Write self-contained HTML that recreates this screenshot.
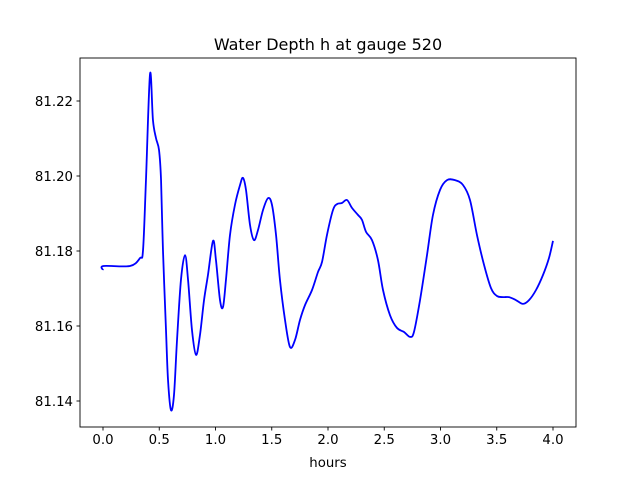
<!DOCTYPE html>
<html><head><meta charset="utf-8"><style>
body{margin:0;background:#fff}
svg{display:block;font-family:"DejaVu Sans","Liberation Sans",sans-serif}
</style></head><body>
<svg id="chart" width="640" height="480" viewBox="0 0 640 480"></svg>
<script>
const xTicks=[0,0.5,1,1.5,2,2.5,3,3.5,4];
const xTickLabels=["0.0","0.5","1.0","1.5","2.0","2.5","3.0","3.5","4.0"];
const yTicks=[81.14,81.16,81.18,81.20,81.22];
const yTickLabels=["81.14","81.16","81.18","81.20","81.22"];
const hours=[0,0.005,0.24,0.329,0.356,0.382,0.418,0.444,0.471,0.498,0.516,0.533,0.56,0.578,0.604,0.631,0.658,0.693,0.729,0.756,0.791,0.827,0.862,0.898,0.933,0.978,1.004,1.04,1.067,1.093,1.129,1.173,1.218,1.244,1.271,1.307,1.342,1.378,1.422,1.467,1.502,1.538,1.573,1.618,1.662,1.707,1.751,1.796,1.858,1.911,1.947,1.991,2.044,2.08,2.124,2.169,2.213,2.267,2.302,2.338,2.391,2.444,2.489,2.551,2.613,2.676,2.729,2.764,2.818,2.88,2.933,2.996,3.058,3.129,3.2,3.262,3.324,3.387,3.449,3.502,3.556,3.609,3.671,3.733,3.787,3.849,3.911,3.964,4.0];
const depth=[81.1749,81.176,81.176,81.1781,81.1803,81.1989,81.2272,81.2149,81.2101,81.2069,81.1989,81.1803,81.1589,81.1456,81.1376,81.1416,81.1563,81.1723,81.1789,81.1723,81.1589,81.1523,81.1576,81.1669,81.1736,81.1827,81.1776,81.1669,81.1651,81.1723,81.1843,81.1923,81.1976,81.1995,81.1963,81.1869,81.1829,81.1856,81.1909,81.1941,81.1923,81.1843,81.1723,81.1616,81.1544,81.1563,81.1616,81.1656,81.1696,81.1744,81.1771,81.1843,81.1909,81.1925,81.1928,81.1936,81.1915,81.1896,81.1883,81.1851,81.1829,81.1776,81.1696,81.1629,81.1595,81.1584,81.1571,81.1584,81.1669,81.1789,81.1896,81.1963,81.1989,81.1989,81.1976,81.1936,81.1843,81.1763,81.1701,81.168,81.1677,81.1677,81.1669,81.1659,81.1669,81.1696,81.1736,81.1781,81.1827];

const L=80,R=576,T=58,B=427;
const X=v=>103+(v-0)*112.5;
const Y=v=>101-(v-81.22)*3750;
const svg=document.getElementById('chart');
const NS='http://www.w3.org/2000/svg';
function mk(tag,attrs,parent){const e=document.createElementNS(NS,tag);for(const k in attrs)e.setAttribute(k,attrs[k]);(parent||svg).appendChild(e);return e;}

// line
let d='';
const P=hours.map((h,i)=>[X(h),Y(depth[i])]);
d='M'+P[0][0]+','+P[0][1];
for(let i=0;i<P.length-1;i++){
  const p0=P[Math.max(i-1,0)],p1=P[i],p2=P[i+1],p3=P[Math.min(i+2,P.length-1)];
  const c1=[p1[0]+(p2[0]-p0[0])/6,p1[1]+(p2[1]-p0[1])/6];
  const c2=[p2[0]-(p3[0]-p1[0])/6,p2[1]-(p3[1]-p1[1])/6];
  d+=' C'+c1[0].toFixed(2)+','+c1[1].toFixed(2)+' '+c2[0].toFixed(2)+','+c2[1].toFixed(2)+' '+p2[0].toFixed(2)+','+p2[1].toFixed(2);
}
const line=mk('path',{d:d,fill:'none',stroke:'#0000ff','stroke-width':1.8,'stroke-linejoin':'round'});



const frame=mk('rect',{x:L,y:T,width:R-L,height:B-T,fill:'none',stroke:'#000','stroke-width':0.9});



xTicks.forEach((v,i)=>{
  const x=X(v);
  const t=mk('line',{x1:x,x2:x,y1:B,y2:B+3.5,stroke:'#000','stroke-width':0.9});
  
  
  const tx=mk('text',{x:x,y:B+17,'text-anchor':'middle','font-size':'13.3'});
  tx.textContent=xTickLabels[i];
  
  
});
yTicks.forEach((v,i)=>{
  const y=Y(v);
  const t=mk('line',{x1:L-3.5,x2:L,y1:y,y2:y,stroke:'#000','stroke-width':0.9});
  
  
  const tx=mk('text',{x:L-7,y:y+5,'text-anchor':'end','font-size':'13.3'});
  tx.textContent=yTickLabels[i];
  
  
});
const xl=mk('text',{x:(L+R)/2,y:467,'text-anchor':'middle','font-size':'13.3'});
xl.textContent='hours';


const title=mk('text',{x:(L+R)/2,y:50,'text-anchor':'middle','font-size':'16'});
title.textContent='Water Depth h at gauge 520';


</script>
</body></html>
